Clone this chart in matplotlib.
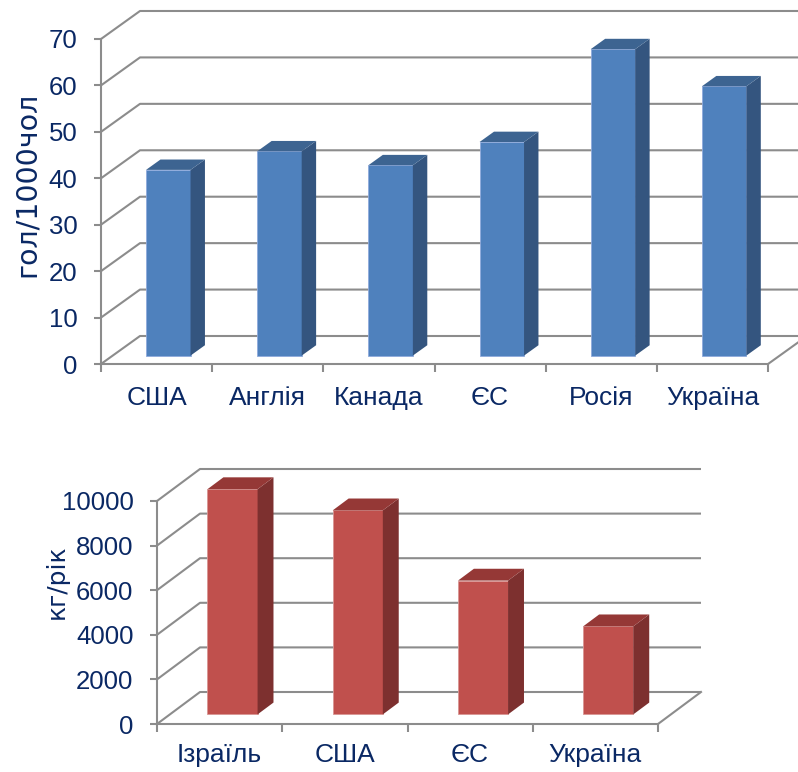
import matplotlib
matplotlib.use("Agg")
import matplotlib.pyplot as plt
from matplotlib.patches import Polygon

plt.rcParams["font.family"] = ["Liberation Sans", "DejaVu Sans"]

# відходи (гол/1000чол)
cats_top = ["США", "Англія", "Канада", "ЄС", "Росія", "Україна"]
vals_top = [40, 44, 41, 46, 66, 58]

# споживання (кг/рік)
cats_bot = ["Ізраїль", "США", "ЄС", "Україна"]
vals_bot = [10100, 9150, 6000, 3950]

TEXT = "#0A2864"
GRID = "#8C8C8C"
BLUE = ("#4F81BD", "#34557F", "#3D6491", "#8FAADC")
RED = ("#C0504D", "#7D302F", "#953836", "#D99694")


def draw_panel(ax, cats, vals, ymax, step, depth, colors, cat_pad):
    dx, dy = depth
    n = len(cats)
    ticks = list(range(0, ymax + 1, step))

    # back wall and left wall gridlines
    for v in ticks:
        ax.plot([0, dx, n + dx], [v, v + dy, v + dy], color=GRID, lw=1.5,
                clip_on=False, zorder=1, solid_capstyle="butt")
    # right edge of the floor
    ax.plot([n, n + dx], [0, dy], color=GRID, lw=1.5, clip_on=False, zorder=1)

    # columns with a side and a top face
    d1, d2 = 0.3, 0.67
    front, side, top, edge = colors
    for i, v in enumerate(vals):
        x0, x1 = i + 0.3, i + 0.7
        ax.add_patch(Polygon([(x0 + d1 * dx, d1 * dy), (x1 + d1 * dx, d1 * dy),
                              (x1 + d1 * dx, v + d1 * dy), (x0 + d1 * dx, v + d1 * dy)],
                             facecolor=front, edgecolor=edge, lw=0.6, zorder=3,
                             clip_on=False))
        ax.add_patch(Polygon([(x1 + d1 * dx, d1 * dy), (x1 + d2 * dx, d2 * dy),
                              (x1 + d2 * dx, v + d2 * dy), (x1 + d1 * dx, v + d1 * dy)],
                             facecolor=side, edgecolor="none", zorder=3, clip_on=False))
        ax.add_patch(Polygon([(x0 + d1 * dx, v + d1 * dy), (x1 + d1 * dx, v + d1 * dy),
                              (x1 + d2 * dx, v + d2 * dy), (x0 + d2 * dx, v + d2 * dy)],
                             facecolor=top, edgecolor="none", zorder=3, clip_on=False))

    # front axes
    for s in ("top", "right"):
        ax.spines[s].set_visible(False)
    ax.spines["left"].set_bounds(0, ymax)
    ax.spines["bottom"].set_bounds(0, n)
    for s in ("left", "bottom"):
        ax.spines[s].set_color(GRID)
        ax.spines[s].set_linewidth(1.5)
        ax.spines[s].set_zorder(2)

    ax.set_yticks(ticks)
    ax.tick_params(axis="y", direction="out", length=5, width=1.5, color=GRID,
                   labelsize=18.5, labelcolor=TEXT, pad=12)
    ax.set_xticks(range(n + 1))
    ax.set_xticklabels([])
    ax.set_xticks([i + 0.5 for i in range(n)], minor=True)
    ax.set_xticklabels(cats, minor=True)
    ax.tick_params(axis="x", which="major", direction="out", length=6, width=1.5,
                   color=GRID)
    ax.tick_params(axis="x", which="minor", length=0, labelsize=19,
                   labelcolor=TEXT, pad=cat_pad)
    ax.patch.set_visible(False)


fig = plt.figure(figsize=(7.98, 7.72), dpi=100)
W, H = 798, 772

# top panel: origin at (101, 364) px, 111.17 px per category, 4.643 px per unit
ax1 = fig.add_axes([101 / W, 1 - 364 / H, (W - 101) / W, (364 - 8) / H])
ax1.set_xlim(0, (W - 101) / 111.17)
ax1.set_ylim(0, (364 - 8) / 4.643)
draw_panel(ax1, cats_top, vals_top, 70, 10, (39 / 111.17, 28 / 4.643), BLUE, 16)

# bottom panel: origin at (157, 724) px, 125.25 px per category, 0.0223 px per unit
ax2 = fig.add_axes([157 / W, 1 - 724 / H, (W - 157) / W, (724 - 455) / H])
ax2.set_xlim(0, (W - 157) / 125.25)
ax2.set_ylim(0, (724 - 455) / 0.0223)
draw_panel(ax2, cats_bot, vals_bot, 10000, 2000, (43 / 125.25, 32 / 0.0223), RED, 14)

# axis titles
fig.text(27 / W, 1 - 184 / H, "гол/1000чол", rotation=90, ha="center", va="center",
         fontsize=20.5, color=TEXT, family="DejaVu Sans")
fig.text(57 / W, 1 - 582 / H, "кг/рік", rotation=90, ha="center", va="center",
         fontsize=18, color=TEXT, family="DejaVu Sans")

fig.savefig("out.png", dpi=100)
